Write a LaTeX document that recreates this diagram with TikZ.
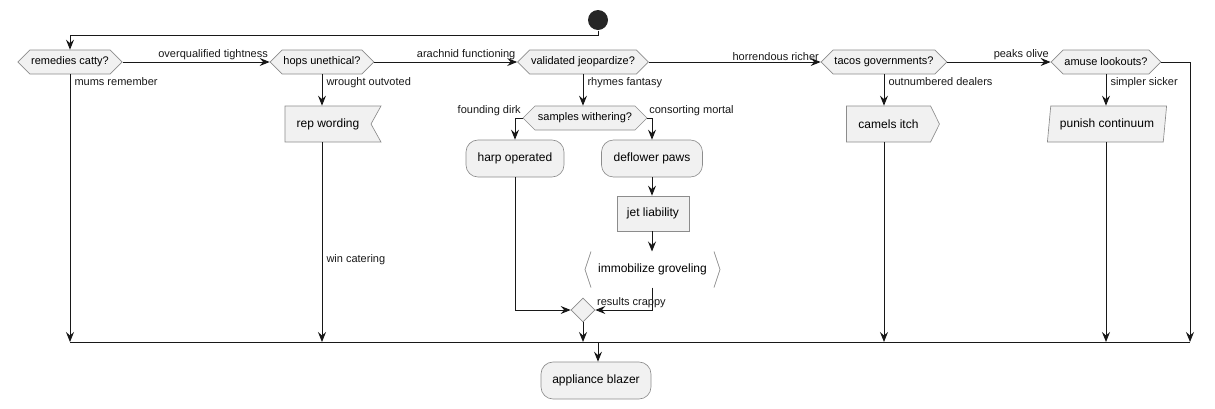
\documentclass[tikz,border=0pt]{standalone}
\usepackage{fontspec}
\setmainfont{Liberation Sans}
\usetikzlibrary{arrows.meta,shapes.geometric,shapes.symbols,calc}
\definecolor{actfill}{HTML}{F1F1F1}
\definecolor{actline}{HTML}{181818}

\begin{document}
\begin{tikzpicture}[x=0.75pt,y=-0.75pt,
    line width=0.75pt,
    arr/.style={actline,-{Stealth[length=7.5pt,width=6pt,inset=2.6pt]}},
    flow/.style={actline},
    base/.style={draw=black!45,fill=actfill,line width=0.5pt,inner sep=0pt,
      font=\fontsize{9}{11}\selectfont},
    act/.style={base,rounded corners=9pt,minimum height=27.75pt},
    plain/.style={base,minimum height=26.25pt},
    choice/.style={base,signal,signal to=west and east,signal pointer angle=90,
      minimum height=18pt,inner xsep=1pt,font=\fontsize{8.25}{10}\selectfont},
    lbl/.style={font=\fontsize{8.25}{10}\selectfont,inner sep=1pt}]
    \useasboundingbox (0,0) rectangle (1215,408);
    % start
    \node[circle,fill=black!85,minimum size=15pt,inner sep=0pt] (start) at (598,20) {};
    \coordinate (top) at (598,35);
    % row of choices
    \node[choice,minimum width=75pt] (rc) at (70,62) {remedies catty?};
    \node[choice,minimum width=75pt] (hu) at (322,62) {hops unethical?};
    \node[choice,minimum width=93.75pt] (vj) at (583,62) {validated jeopardize?};
    \node[choice,minimum width=92.25pt] (tg) at (884,62) {tacos governments?};
    \node[choice,minimum width=79.5pt] (al) at (1106,62) {amuse lookouts?};
    % branch bodies
    \node[base,signal,signal to=nowhere,signal from=east,signal pointer angle=122,
      minimum width=72pt,minimum height=27pt] (rw) at (328,124) {rep wording};
    \node[choice,minimum width=93pt] (sw) at (585,118) {samples withering?};
    \node[act,minimum width=73.5pt] (ho) at (515,158.5) {harp operated};
    \node[act,minimum width=75.75pt] (dp) at (652,158.5) {deflower paws};
    \node[plain,minimum width=54pt] (jl) at (653,213.5) {jet liability};
    \node[minimum width=100.5pt,minimum height=26.25pt,inner sep=0pt,
      font=\fontsize{9}{11}\selectfont] (ig) at (652.5,269.5) {immobilize groveling};
    \draw[black!45,line width=0.5pt] ($(ig.north west)+(6,0)$) -- (ig.west) -- ($(ig.south west)+(6,0)$);
    \draw[black!45,line width=0.5pt] ($(ig.north east)+(-6,0)$) -- (ig.east) -- ($(ig.south east)+(-6,0)$);
    \node[base,diamond,minimum size=18pt] (mg) at (583,310) {};
    \node[base,signal,signal to=east,signal pointer angle=127,
      minimum width=69.75pt,minimum height=27pt] (ci) at (888.5,124) {camels itch};
    \node[base,trapezium,trapezium left angle=76,trapezium right angle=104,
      trapezium stretches=true,minimum width=90pt,minimum height=27pt] (pc) at (1107,124) {punish continuum};
    \node[act,minimum width=82.5pt] (ab) at (596,380.5) {appliance blazer};
    % merge bar
    \coordinate (bL) at (70,342);
    \coordinate (bR) at (1190,342);
    \draw[flow] (bL) -- (bR);

    % connectors
    \draw[arr] (start) -- (top) -| (rc.north);
    \draw[arr] (rc.east) -- node[lbl,pos=1,anchor=south east] {overqualified tightness} (hu.west);
    \draw[arr] (hu.east) -- node[lbl,pos=1,anchor=south east] {arachnid functioning} (vj.west);
    \draw[arr] (vj.east) -- node[lbl,pos=1,anchor=south east] {horrendous richer} (tg.west);
    \draw[arr] (tg.east) -- node[lbl,pos=1,anchor=south east] {peaks olive} (al.west);
    \draw[arr] (al.east) -| (bR);
    \draw[arr] (rc.south) -- node[lbl,pos=0,anchor=north west,xshift=2pt,yshift=-1pt] {mums remember} (bL);
    \draw[arr] (hu.south) -- node[lbl,pos=0,anchor=north west,xshift=2pt,yshift=-1pt] {wrought outvoted} (hu.south |- rw.north);
    \draw[arr] (hu.south |- rw.south) -- node[lbl,pos=0.59,anchor=west,xshift=2pt] {win catering} (hu.south |- bL);
    \draw[arr] (vj.south) -- node[lbl,pos=0,anchor=north west,xshift=2pt,yshift=-1pt] {rhymes fantasy} (vj.south |- sw.north);
    \draw[arr] (sw.west) -| node[lbl,pos=0,anchor=south east] {founding dirk} (ho.north);
    \draw[arr] (sw.east) -| node[lbl,pos=0,anchor=south west] {consorting mortal} (dp.north);
    \draw[arr] (dp.south) -- (dp.south |- jl.north);
    \draw[arr] (dp.south |- jl.south) -- (dp.south |- ig.north);
    \draw[arr] (dp.south |- ig.south) |- node[lbl,pos=1,anchor=south west] {results crappy} (mg.east);
    \draw[arr] (ho.south) |- (mg.west);
    \draw[arr] (mg.south) -- (mg.south |- bL);
    \draw[arr] (tg.south) -- node[lbl,pos=0,anchor=north west,xshift=2pt,yshift=-1pt] {outnumbered dealers} (tg.south |- ci.north);
    \draw[arr] (tg.south |- ci.south) -- (tg.south |- bL);
    \draw[arr] (al.south) -- node[lbl,pos=0,anchor=north west,xshift=2pt,yshift=-1pt] {simpler sicker} (al.south |- pc.north);
    \draw[arr] (al.south |- pc.south) -- (al.south |- bL);
    \draw[arr] (bL -| top) -- (top |- ab.north);
\end{tikzpicture}
\end{document}
